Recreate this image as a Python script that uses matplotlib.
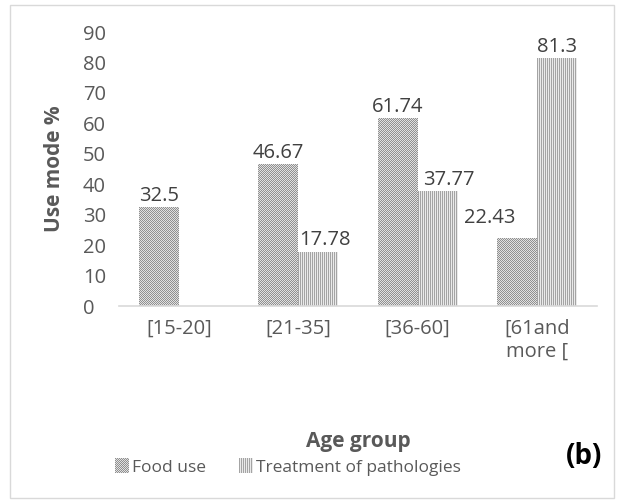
import matplotlib
matplotlib.use("Agg")
import matplotlib.pyplot as plt
from matplotlib.patches import Rectangle
import numpy as np

plt.rcParams['font.family'] = ['Open Sans', 'DejaVu Sans']

categories = ["[15-20]", "[21-35]", "[36-60]", "[61and\nmore ["]
series_names = ["Food use", "Treatment of pathologies"]
food_use = [32.5, 46.67, 61.74, 22.43]
treatment = [None, 17.78, 37.77, 81.3]
y_ticks = [0, 10, 20, 30, 40, 50, 60, 70, 80, 90]

# label nudges (points), styling only
food_offsets = [(0, 1), (0, 1), (0, 1), (-20, 7)]
treat_offsets = [(0, 1), (5, 1), (8, 1), (0, 1)]

W, H = 620, 503
fig = plt.figure(figsize=(W / 100, H / 100), dpi=100)
fig.patch.set_facecolor("white")
fig.add_artist(Rectangle((10 / W, 5 / H), 604 / W, 493 / H, transform=fig.transFigure,
                         fill=False, edgecolor="#d9d9d9", linewidth=1.0))

ax = fig.add_axes([119 / W, 1 - 306 / H, (597 - 119) / W, (306 - 32) / H])
ax.patch.set_visible(False)
x = np.arange(len(categories))
bw = 0.335

food_vals = [v if v is not None else 0 for v in food_use]
treat_vals = [v if v is not None else 0 for v in treatment]

b1 = ax.bar(x - bw / 2, food_vals, bw, color="#b0b0b0", linewidth=0, label=series_names[0])
b2 = ax.bar(x + bw / 2, treat_vals, bw, color="#c8c8c8", linewidth=0, label=series_names[1])

lab_color = "#404040"
for rect, v, off in zip(b1, food_use, food_offsets):
    if v is None:
        continue
    ax.annotate(f"{v:g}", (rect.get_x() + rect.get_width() / 2, v), xytext=off,
                textcoords="offset points", ha="center", va="bottom",
                fontsize=14.5, color=lab_color, zorder=10)
for rect, v, off in zip(b2, treatment, treat_offsets):
    if v is None:
        continue
    ax.annotate(f"{v:g}", (rect.get_x() + rect.get_width() / 2, v), xytext=off,
                textcoords="offset points", ha="center", va="bottom",
                fontsize=14.5, color=lab_color, zorder=10)

ax.set_xlim(-0.5, len(categories) - 0.5)
ax.set_ylim(0, 90)
ax.set_yticks(y_ticks)
ax.set_xticks(x)
ax.set_xticklabels(categories, multialignment="center")
for s in ["top", "right", "left"]:
    ax.spines[s].set_visible(False)
ax.spines["bottom"].set_color("#d9d9d9")
ax.spines["bottom"].set_linewidth(1.2)
ax.tick_params(axis="both", length=0, labelsize=14.5, labelcolor="#595959")
ax.tick_params(axis="x", pad=9)
ax.tick_params(axis="y", pad=26)
for t in ax.get_yticklabels():
    t.set_horizontalalignment("left")

fig.text(54 / W, 1 - 169 / H, "Use mode %", rotation=90, ha="center", va="center",
         fontsize=15, fontweight="bold", color="#595959")
fig.text(358 / W, 1 - 441 / H, "Age group", ha="center", va="center",
         fontsize=15, fontweight="bold", color="#595959")
fig.text(584 / W, 1 - 456 / H, "(b)", ha="center", va="center",
         fontsize=20, fontweight="bold", color="#000000")

leg = fig.legend(handles=[b1, b2], labels=series_names, loc="center",
                 bbox_to_anchor=(288 / W, 1 - 467 / H), ncol=2, frameon=False,
                 fontsize=12.5, handlelength=0.8, handleheight=0.9,
                 handletextpad=0.2, columnspacing=1.9)
for t in leg.get_texts():
    t.set_color("#595959")


def texture(w, h, kind):
    jj, ii = np.meshgrid(np.arange(w), np.arange(h))
    if kind == "food":
        mask = (ii + jj) % 2 == 0
        dark, light = 0x90, 0xe0
    else:
        mask = jj % 2 == 0
        dark, light = 0xa4, 0xea
    arr = np.where(mask, dark, light) / 255.0
    return np.dstack([arr, arr, arr])


fig.canvas.draw()
renderer = fig.canvas.get_renderer()


def fill_patch(patch, kind):
    bb = patch.get_window_extent(renderer)
    x0, x1 = int(round(bb.x0)), int(round(bb.x1))
    y0, y1 = int(round(bb.y0)), int(round(bb.y1))
    w, h = x1 - x0, y1 - y0
    if w <= 0 or h <= 0:
        return
    fig.figimage(texture(w, h, kind), xo=x0, yo=y0, origin="lower", zorder=-1)
    patch.set_facecolor("none")


for rect in b1:
    fill_patch(rect, "food")
for rect in b2:
    fill_patch(rect, "treat")
handles = leg.legend_handles
fill_patch(handles[0], "food")
fill_patch(handles[1], "treat")

fig.savefig("out.png", dpi=100, facecolor="white")
